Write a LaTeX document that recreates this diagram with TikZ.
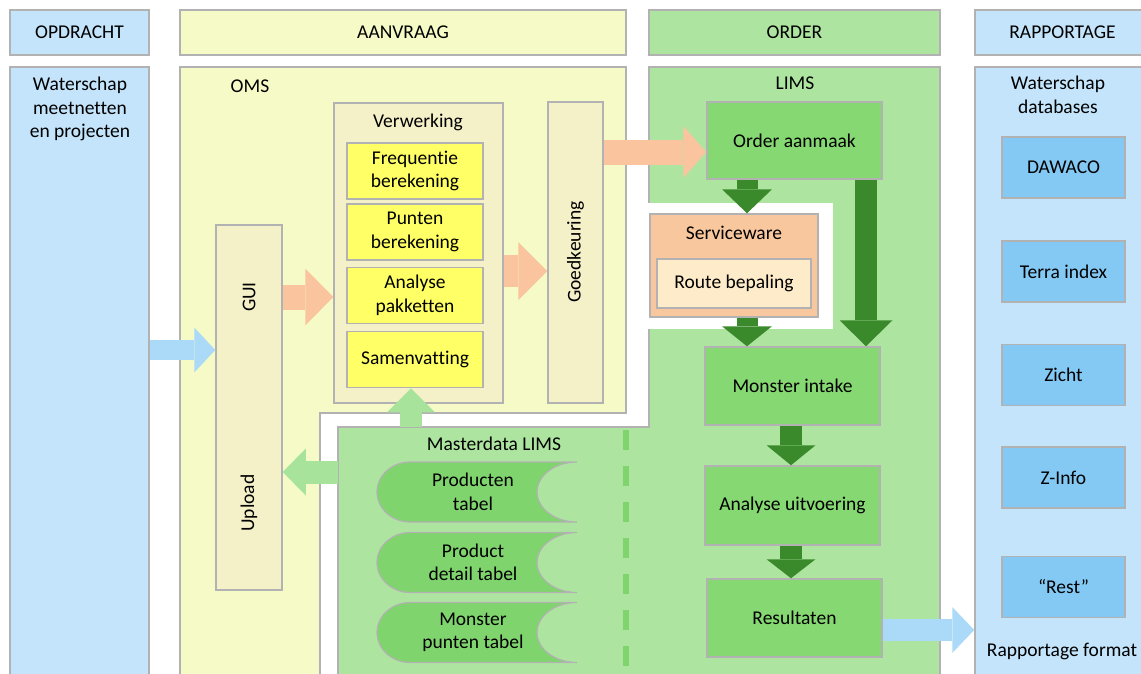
\documentclass[tikz,border=0pt]{standalone}
\usepackage{fontspec}
\setmainfont{Carlito}[Ligatures=NoCommon]
\usetikzlibrary{arrows.meta,positioning}
\definecolor{opdrblue}{HTML}{C3E4FA}
\definecolor{dbblue}{HTML}{83C9F4}
\definecolor{arrowblue}{HTML}{ABDAF9}
\definecolor{omsyellow}{HTML}{F5FAC6}
\definecolor{boxbeige}{HTML}{F4F0C8}
\definecolor{calcyellow}{HTML}{FFFF66}
\definecolor{limsgreen}{HTML}{ADE5A0}
\definecolor{stepgreen}{HTML}{86D872}
\definecolor{tablegreen}{HTML}{80D46E}
\definecolor{darkflow}{HTML}{3A8A2B}
\definecolor{lightflow}{HTML}{A8E39B}
\definecolor{peach}{HTML}{F9C49E}
\definecolor{servorange}{HTML}{F9C79D}
\definecolor{routecream}{HTML}{FEEBC9}
\definecolor{edgegray}{HTML}{B2B2B2}
\tikzset{
  box/.style={draw=edgegray, line width=1.5pt, inner sep=0pt, align=center},
  flow/.style n args={3}{line width=#1, -{Triangle[length=#2,width=#3,line width=0pt]}},
}
\begin{document}
\begin{tikzpicture}[x=1pt,y=-1pt,font=\fontsize{19.5}{23.5}\selectfont]
\useasboundingbox (0,0) rectangle (1141,673);
%headers
\node[box,fill=opdrblue,minimum width=139pt,minimum height=45pt] (hopdr) at (79.5,32.5) {OPDRACHT};
\node[box,fill=omsyellow,minimum width=446pt,minimum height=45pt] (haanv) at (403,32.5) {AANVRAAG};
\node[box,fill=limsgreen,minimum width=291pt,minimum height=45pt] (horder) at (794.5,32.5) {ORDER};
\node[box,fill=opdrblue,minimum width=175pt,minimum height=45pt] (hrapp) at (1062.5,32.5) {RAPPORTAGE};
%columns
\node[box,fill=opdrblue,minimum width=139pt,minimum height=613pt] (opdr) at (79.5,373.5) {};
\node[box,fill=opdrblue,minimum width=175pt,minimum height=613pt] (rapp) at (1062.5,373.5) {};
\draw[edgegray,line width=1.5pt,fill=omsyellow] (180,67) -- (626,67) -- (626,413) -- (320,413) -- (320,680) -- (180,680) -- cycle;
\draw[edgegray,line width=1.5pt,fill=limsgreen] (649,67) -- (940,67) -- (940,680) -- (338,680) -- (338,427) -- (649,427) -- cycle;
\coordinate (mdnw) at (338,427);
\fill[white] (640,203) rectangle (833,329);
\draw[tablegreen,line width=6pt,dash pattern=on 20pt off 16pt] (626,430) -- (626,673);
%column titles
\node[align=center] (opdrtxt) at (80,109) {Waterschap\\meetnetten\\en projecten};
\node (omstxt) at (250,86) {OMS};
\node (limstxt) at (795,83) {LIMS};
\node (mdtxt) at (494,444) {Masterdata LIMS};
\node[align=center] (dbtxt) at (1058,95) {Waterschap\\databases};
\node (fmttxt) at (1062,651) {Rapportage format};
%aanvraag
\node[box,fill=boxbeige,minimum width=66pt,minimum height=365pt] (gui) at (249,407.5) {};
\node[rotate=90] (guitxt) at (249,297) {GUI};
\node[rotate=90] (uptxt) at (249,503) {Upload};
\node[box,fill=boxbeige,minimum width=169pt,minimum height=300pt] (verw) at (418.5,253) {};
\node (verwtxt) at (418,122) {Verwerking};
\node[box,fill=calcyellow,minimum width=136pt,minimum height=56pt] (freq) at (415,171) {Frequentie\\berekening};
\node[box,fill=calcyellow,minimum width=136pt,minimum height=56pt] (punt) at (415,232) {Punten\\berekening};
\node[box,fill=calcyellow,minimum width=136pt,minimum height=56pt] (pakk) at (415,295.5) {Analyse\\pakketten};
\node[box,fill=calcyellow,minimum width=136pt,minimum height=56pt] (samen) at (415,359.5) {Samenvatting};
\node[box,fill=boxbeige,minimum width=55pt,minimum height=301pt] (goed) at (575.5,252.5) {};
\node[rotate=90] (goedtxt) at (575.5,252) {Goedkeuring};
%masterdata tables
\foreach \yc/\txt [count=\i] in {492/{Producten\\tabel}, 562.5/{Product\\detail tabel}, 632.5/{Monster\\punten tabel}}{
  \draw[edgegray,line width=1.2pt,fill=tablegreen] (577,\yc-30) -- (410,\yc-30)
    .. controls (392,\yc-30) and (377,\yc-16.5) .. (377,\yc)
    .. controls (377,\yc+16.5) and (392,\yc+30) .. (410,\yc+30) -- (577,\yc+30)
    .. controls (555,\yc+30) and (537,\yc+16.5) .. (537,\yc)
    .. controls (537,\yc-16.5) and (555,\yc-30) .. (577,\yc-30) -- cycle;
  \node[align=center] (tab\i) at (473,\yc) {\txt};
}
%order
\node[box,fill=stepgreen,minimum width=175pt,minimum height=77pt] (order) at (794.5,140.5) {Order aanmaak};
\node[box,fill=servorange,minimum width=168pt,minimum height=103pt] (service) at (734,265.5) {};
\node (servtxt) at (734,233) {Serviceware};
\node[box,fill=routecream,minimum width=154pt,minimum height=49pt] (route) at (734,283.5) {Route bepaling};
\node[box,fill=stepgreen,minimum width=175pt,minimum height=78pt] (monster) at (792.5,386) {Monster intake};
\node[box,fill=stepgreen,minimum width=175pt,minimum height=79pt] (uitv) at (792.5,505.5) {Analyse uitvoering};
\node[box,fill=stepgreen,minimum width=175pt,minimum height=78pt] (result) at (794.5,618) {Resultaten};
%rapportage
\foreach \yc/\name/\txt in {167.5/dawaco/DAWACO, 271.5/terra/Terra index, 375/zicht/Zicht, 477.5/zinfo/Z-Info, 587/rest/“Rest”}
  \node[box,fill=dbblue,minimum width=123pt,minimum height=61pt] (\name) at (1063.5,\yc) {\txt};
%flows
\draw[arrowblue,flow={20pt}{21pt}{45pt}] (opdr.east |- 0,350) -- (gui.west |- 0,350);
\draw[peach,flow={25pt}{28pt}{57pt}] (gui.east |- 0,297) -- (verw.west |- 0,297);
\draw[peach,flow={32pt}{29pt}{58pt}] (verw.east |- 0,271) -- (goed.west |- 0,271);
\draw[peach,flow={25pt}{23pt}{52pt}] (goed.east |- 0,152) -- (order.west |- 0,152);
\draw[lightflow,flow={23pt}{23pt}{47pt}] (mdnw |- 0,472) -- (gui.east |- 0,472);
\draw[lightflow,flow={22pt}{24pt}{48pt}] ([xshift=-4pt]samen.south |- mdnw) -- ([xshift=-4pt]samen.south);
\draw[darkflow,flow={21pt}{24pt}{50pt}] (order.south -| 747,0) -- (service.north -| 747,0);
\draw[darkflow,flow={22pt}{26pt}{53pt}] (order.south -| 866,0) -- (monster.north -| 866,0);
\draw[darkflow,flow={21pt}{20pt}{50pt}] (service.south -| 747,0) -- (monster.north -| 747,0);
\draw[darkflow,flow={22pt}{20pt}{49pt}] (monster.south -| 791,0) -- (uitv.north -| 791,0);
\draw[darkflow,flow={22pt}{19pt}{49pt}] (uitv.south -| 791,0) -- (result.north -| 791,0);
\draw[arrowblue,flow={22pt}{22pt}{46pt}] (result.east |- 0,630) -- (rapp.west |- 0,630);
\end{tikzpicture}
\end{document}
